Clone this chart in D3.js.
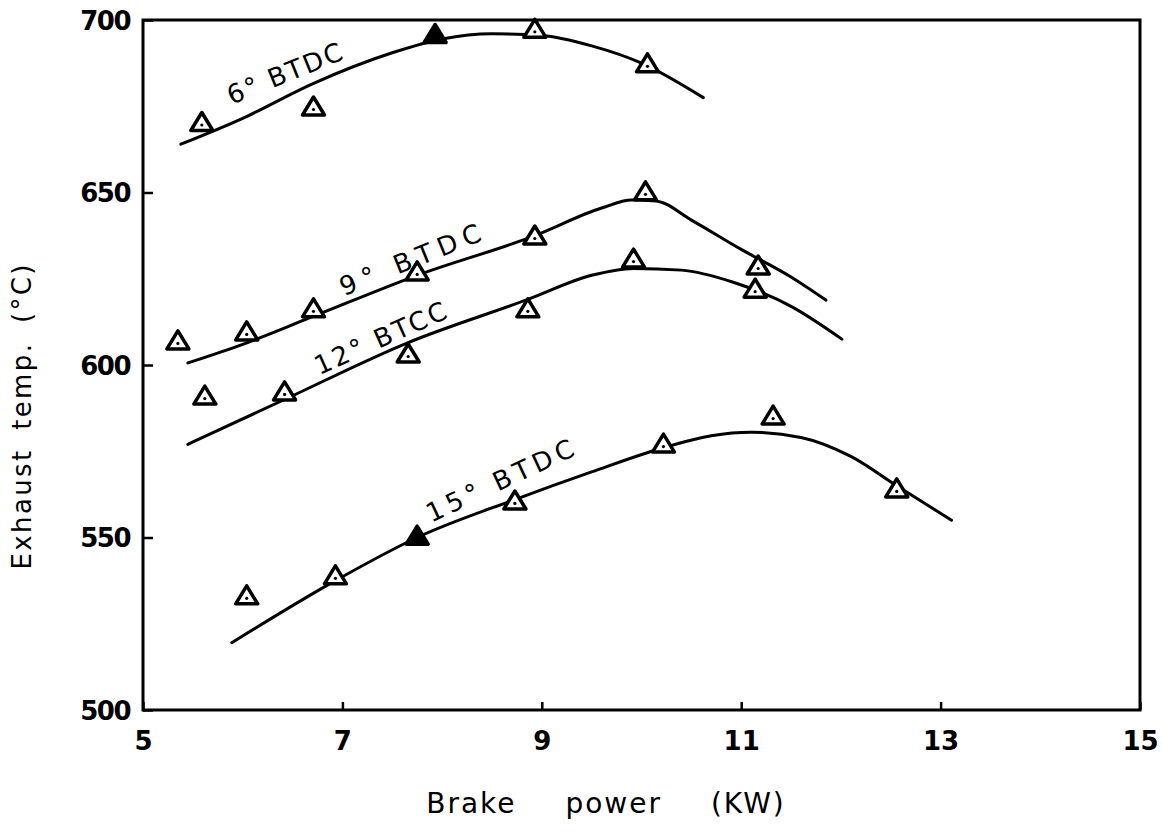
<!DOCTYPE html>
<html>
<head>
<meta charset="utf-8">
<script src="https://cdn.jsdelivr.net/npm/d3@7"></script>
<style>
  body { margin: 0; background: #fff; }
  text { font-family: "DejaVu Sans", sans-serif; fill: #000; }
</style>
</head>
<body>
<div id="chart"></div>
<script>
// measured points [brake power kW, exhaust temp °C]
var obs6  = [[5.59, 670], [6.71, 674.5], [7.93, 695.5], [8.93, 697], [10.06, 687]];
var obs9  = [[5.35, 606.7], [6.04, 609.3], [6.71, 616], [7.75, 626.7], [8.93, 637.1], [10.04, 649.9], [11.17, 628.4]];
var obs12 = [[5.62, 590.7], [6.42, 591.9], [7.66, 602.9], [8.86, 616], [9.92, 630.4], [11.14, 621.7]];
var obs15 = [[6.04, 532.8], [6.93, 538.6], [7.75, 550.1], [8.73, 560.3], [10.22, 576.8], [11.32, 584.9], [12.56, 563.8]];

// fitted curves
var fit6  = [[5.38, 664], [6.0, 671.5], [6.7, 681.5], [7.5, 690.5], [8.0, 694.5], [8.5, 696], [9.0, 695.5], [9.5, 692.5], [10.0, 687.5], [10.62, 677.5]];
var fit9  = [[5.45, 600.6], [6.0, 606], [6.7, 614], [7.75, 626], [8.93, 637.5], [9.6, 645.5], [9.9, 647.8], [10.15, 647.5], [10.5, 642], [11.0, 633.5], [11.5, 625.5], [11.85, 618.8]];
var fit12 = [[5.45, 577], [6.42, 590], [7.66, 606.5], [8.86, 619], [9.5, 626], [9.92, 628], [10.4, 627.5], [10.92, 624], [11.5, 617], [12.01, 607.5]];
var fit15 = [[5.89, 519.5], [6.93, 537.5], [7.75, 550], [8.73, 561], [9.5, 569], [10.22, 576], [10.7, 579.5], [11.1, 580.5], [11.6, 579], [12.1, 573.5], [12.56, 565], [13.11, 555]];

var seriesNames = ['6° BTDC', '9° BTDC', '12° BTCC', '15° BTDC'];
var xTicks = [5, 7, 9, 11, 13, 15];
var yTicks = [500, 550, 600, 650, 700];
// points drawn as solid triangles: [series index, point index]
var solidPts = [[0, 2], [3, 2]];

var W = 1163, H = 832;
var margin = { top: 20, right: 23, bottom: 122, left: 143 };

var svg = d3.select('#chart').append('svg')
    .attr('width', W)
    .attr('height', H);

svg.append('rect').attr('width', W).attr('height', H).attr('fill', '#fff');

var x = d3.scaleLinear().domain([5, 15]).range([margin.left, W - margin.right]);
var y = d3.scaleLinear().domain([500, 700]).range([H - margin.bottom, margin.top]);

// frame
svg.append('rect')
  .attr('x', x(5)).attr('y', y(700))
  .attr('width', x(15) - x(5)).attr('height', y(500) - y(700))
  .attr('fill', 'none').attr('stroke', '#000').attr('stroke-width', 3);

// axes with inward ticks
var xAxis = svg.append('g')
  .attr('transform', 'translate(0,' + y(500) + ')')
  .call(d3.axisBottom(x).tickValues(xTicks).tickSizeInner(-8).tickSizeOuter(0).tickPadding(22));
var yAxis = svg.append('g')
  .attr('transform', 'translate(' + x(5) + ',0)')
  .call(d3.axisLeft(y).tickValues(yTicks).tickSizeInner(-10).tickSizeOuter(0).tickPadding(13));

[xAxis, yAxis].forEach(function(g) {
  g.select('.domain').remove();
  g.selectAll('line').attr('stroke', '#000').attr('stroke-width', 2.5);
  g.selectAll('text')
    .style('font-family', '"DejaVu Sans", sans-serif')
    .style('font-size', '26px')
    .style('font-weight', 'bold')
    .attr('fill', '#000');
});
yAxis.selectAll('text').attr('dy', '0.35em').style('letter-spacing', '-1.5px');

// axis titles
svg.append('text')
  .attr('x', 606).attr('y', 813)
  .attr('text-anchor', 'middle')
  .style('font-size', '28px')
  .style('letter-spacing', '2px')
  .style('word-spacing', '38px')
  .text('Brake power (KW)');

svg.append('text')
  .attr('transform', 'translate(31,' + 417 + ') rotate(-90)')
  .attr('text-anchor', 'middle')
  .attr('textLength', 305)
  .attr('lengthAdjust', 'spacing')
  .style('font-size', '26px')
  .style('word-spacing', '8px')
  .text('Exhaust temp. (°C)');

// curves
var line = d3.line()
  .x(function(d) { return x(d[0]); })
  .y(function(d) { return y(d[1]); })
  .curve(d3.curveMonotoneX);

var fits = [fit6, fit9, fit12, fit15];
var obs = [obs6, obs9, obs12, obs15];

svg.selectAll('path.fit')
  .data(fits)
  .enter().append('path')
    .attr('class', 'fit')
    .attr('d', line)
    .attr('fill', 'none')
    .attr('stroke', '#000')
    .attr('stroke-width', 3)
    .attr('stroke-linecap', 'round');

// triangle markers
var tri = 'M0,-11L11,7L-11,7Z';
obs.forEach(function(pts, si) {
  var g = svg.append('g');
  var marks = g.selectAll('g.pt')
    .data(pts)
    .enter().append('g')
      .attr('class', 'pt')
      .attr('transform', function(d) { return 'translate(' + x(d[0]) + ',' + y(d[1]) + ')'; });

  marks.append('path')
    .attr('d', tri)
    .attr('fill', function(d, i) {
      var solid = solidPts.some(function(p) { return p[0] === si && p[1] === i; });
      return solid ? '#000' : '#fff';
    })
    .attr('stroke', '#000')
    .attr('stroke-width', 3.5)
    .attr('stroke-linejoin', 'round');

  marks.append('circle')
    .attr('cx', 0).attr('cy', 1.5).attr('r', 1.6)
    .attr('fill', '#000');
});

// curve labels (centre in data units, rotation, drawn length)
var labelPlace = [
  { x: 6.42, y: 684.5, rot: -22, len: 122 },
  { x: 7.68, y: 630.5, rot: -22, len: 150 },
  { x: 7.38, y: 607.8, rot: -24, len: 142 },
  { x: 8.58, y: 566.5, rot: -25, len: 160 }
];

svg.selectAll('text.lab')
  .data(seriesNames)
  .enter().append('text')
    .attr('class', 'lab')
    .attr('transform', function(d, i) {
      var p = labelPlace[i];
      return 'translate(' + x(p.x) + ',' + y(p.y) + ') rotate(' + p.rot + ')';
    })
    .attr('text-anchor', 'middle')
    .attr('dy', '0.35em')
    .attr('textLength', function(d, i) { return labelPlace[i].len; })
    .attr('lengthAdjust', 'spacing')
    .style('font-size', '26px')
    .text(function(d) { return d; });
</script>
</body>
</html>
